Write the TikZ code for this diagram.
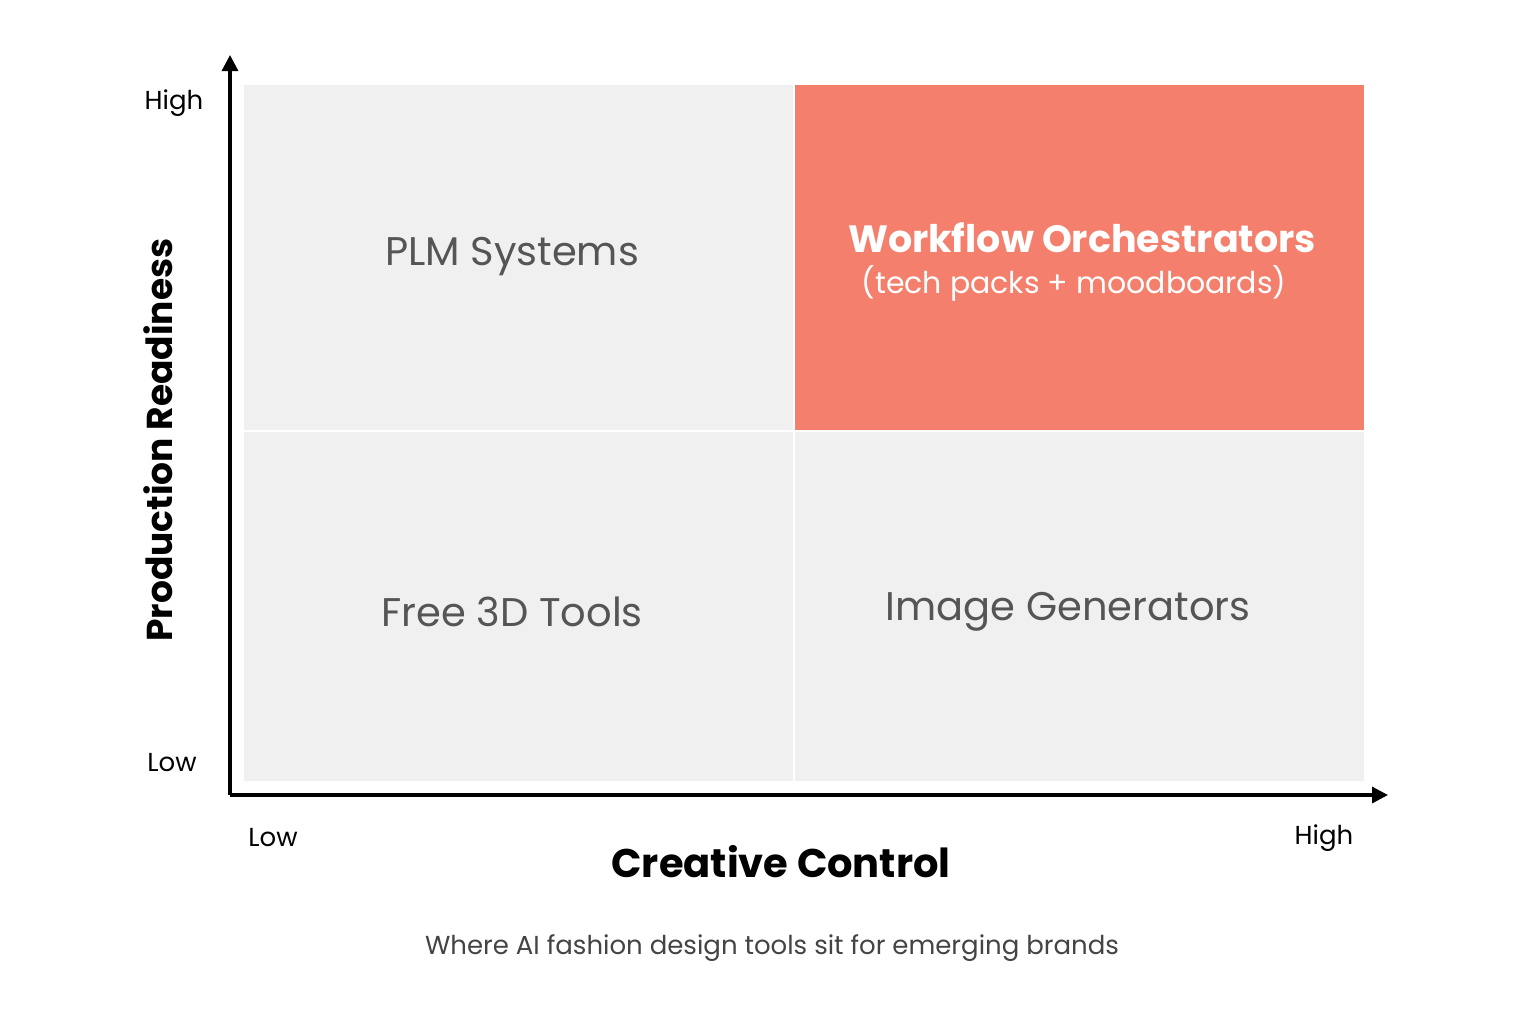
\documentclass[tikz,border=0pt]{standalone}
\usepackage{fontspec}
\setmainfont{Poppins}
\usetikzlibrary{arrows.meta}
\definecolor{quad}{HTML}{F0F0F0}
\definecolor{hot}{HTML}{F47F6C}
\definecolor{lbl}{HTML}{555555}
\begin{document}
\begin{tikzpicture}[x=0.5pt,y=-0.5pt,
  qbox/.style={fill=quad,draw=none},
  qtext/.style={text=lbl,font=\fontsize{20}{24}\selectfont},
  tick/.style={font=\fontsize{13}{15}\selectfont,text=black},
  axis/.style={line width=1.6pt,-{Triangle[length=8pt,width=8pt]}}]
\useasboundingbox[fill=white] (0,0) rectangle (1536,1024);
\fill[quad] (244,85) rectangle (793,430) coordinate (q1);
\fill[hot] (795,85) rectangle (1364,430);
\fill[quad] (244,432) rectangle (793,781);
\fill[quad] (795,432) rectangle (1364,781);
\node[qtext] (plm) at (512,257) {PLM Systems};
\node[qtext] (free) at (512,612) {Free 3D Tools};
\node[qtext] (img) at (1068,612) {Image Generators};
\node[text=white,font=\bfseries\fontsize{19}{22}\selectfont] (wf) at (1082,238) {Workflow Orchestrators};
\node[text=white,font=\fontsize{15}{18}\selectfont] (wfs) at (1074,283) {(tech packs + moodboards)};
\coordinate (o) at (230,795);
\coordinate (yt) at (230,55);
\coordinate (xt) at (1388,795);
\draw[axis] (o) -- (yt);
\draw[axis] (o) -- (xt);
\node[tick] (yh) at (174,103) {High};
\node[tick] (yl) at (172,763) {Low};
\node[tick] (xl) at (273,838) {Low};
\node[tick] (xh) at (1324,838) {High};
\node[rotate=90,font=\bfseries\fontsize{18}{22}\selectfont] (yl2) at (158,440) {Production Readiness};
\node[font=\bfseries\fontsize{20}{24}\selectfont] (xlab) at (781,862) {Creative Control};
\node[text=lbl!80!black,font=\fontsize{13}{16}\selectfont] (cap) at (772,948) {Where AI fashion design tools sit for emerging brands};
\end{tikzpicture}
\end{document}
